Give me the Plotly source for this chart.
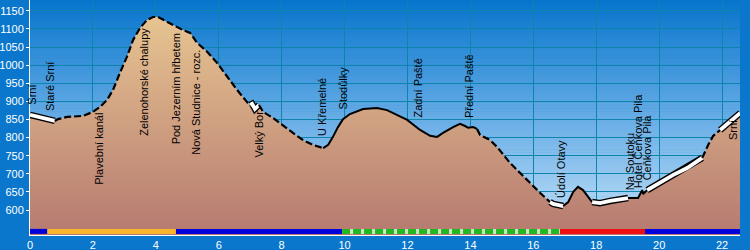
import plotly.graph_objects as go

# ---- profile data (distance km, elevation m) ----
dist_km = [0.00, 0.79, 0.89, 1.18, 1.69, 2.00, 2.23, 2.45, 2.64, 2.86, 3.08, 3.28, 3.50, 3.72,
           3.91, 4.07, 4.23, 4.55, 4.86, 5.09, 5.31, 5.63, 5.95, 6.26, 6.58, 6.90, 7.00, 7.06,
           7.15, 7.28, 7.41, 7.73, 8.04, 8.36, 8.68, 9.00, 9.32, 9.48, 9.63, 9.79, 9.95, 10.17,
           10.59, 11.03, 11.35, 11.67, 11.99, 12.40, 12.72, 12.94, 13.13, 13.45, 13.67, 13.83,
           13.93, 14.09, 14.21, 14.31, 14.63, 14.85, 15.26, 15.58, 15.90, 16.22, 16.53, 16.63,
           16.95, 17.11, 17.27, 17.42, 17.58, 17.74, 17.87, 18.12, 18.44, 19.01, 19.33, 19.46,
           19.49, 19.62, 20.45, 20.89, 21.37, 21.56, 21.72, 21.94, 22.58]
elev_m = [863, 846, 851, 857, 860, 871, 885, 904, 932, 979, 1023, 1070, 1103, 1125,
          1133, 1133, 1125, 1111, 1097, 1089, 1062, 1037, 1006, 968, 932, 898, 890, 893,
          879, 890, 871, 854, 835, 813, 793, 780, 771, 780, 802, 829, 851, 865,
          879, 882, 876, 863, 849, 821, 805, 802, 813, 829, 838, 832,
          827, 829, 824, 807, 793, 774, 730, 702, 675, 647, 622, 617,
          611, 622, 650, 664, 655, 636, 622, 619, 625, 633, 633, 655,
          644, 655, 697, 716, 744, 780, 805, 821, 868]

# line style sections along the route (km from, km to, style)
sect_from = [0.00, 0.79, 7.00, 7.28, 9.32, 14.21, 16.53, 16.95, 17.87, 19.01, 19.62, 21.37, 21.94]
sect_to = [0.79, 7.00, 7.28, 9.32, 14.21, 16.53, 16.95, 17.87, 19.01, 19.62, 21.37, 21.94, 22.58]
sect_style = ["white", "dash", "white", "dash", "solid", "dash", "white", "solid", "white",
              "solid", "white", "dash", "white"]

# waypoint labels
wp_names = ["Srní", "Staré Srní", "Plavební kanál", "Zelenohorské chalupy", "Pod Jezerním hřbetem",
            "Nová Studnice - rozc.", "Velký Bor", "U Křemelné", "Stodůlky", "Zadní Paště",
            "Přední Paště", "Údolí Otavy", "Na Soutoku", "Hotel Čeňkova Pila", "Čeňkova Pila", "Srní"]
wp_km = [0.06, 0.64, 2.19, 3.62, 4.67, 5.25, 7.28, 9.28, 9.95, 12.34, 13.96, 16.88, 19.10, 19.33, 19.62, 22.35]
wp_base = [885, 868, 664, 799, 777, 746, 738, 799, 871, 849, 849, 628, 650, 655, 677, 788]

# surface bar along the bottom
bar_from = [0.00, 0.55, 4.64, 9.92, 16.85, 19.55]
bar_to = [0.55, 4.64, 9.92, 16.85, 19.55, 22.57]
bar_kind = ["blue", "orange", "blue", "green", "red", "blue"]

X_RANGE = [0, 22.57]
Y_RANGE = [531, 1180]
BAR_Y = 541

fig = go.Figure()

# sky gradient as bands below grid
def lerp(c1, c2, t):
    return tuple(round(a + (b - a) * t) for a, b in zip(c1, c2))

sky_stops = [(0.0, (198, 227, 248)), (0.45, (112, 178, 232)), (1.0, (6, 116, 204))]
N = 80
shapes = []
for i in range(N):
    t0 = i / N
    t1 = (i + 1) / N
    tm = (t0 + t1) / 2
    for j in range(len(sky_stops) - 1):
        if sky_stops[j][0] <= tm <= sky_stops[j + 1][0]:
            a, ca = sky_stops[j]
            b, cb = sky_stops[j + 1]
            c = lerp(ca, cb, (tm - a) / (b - a))
            break
    shapes.append(dict(type="rect", xref="x domain", yref="y domain", x0=0, x1=1, y0=t0, y1=t1 + 0.002,
                       fillcolor="rgb(%d,%d,%d)" % c, line=dict(width=0), layer="below"))

# terrain fill
fig.add_trace(go.Scatter(
    x=dist_km, y=elev_m, mode="none", fill="tozeroy",
    fillgradient=dict(type="vertical", start=Y_RANGE[0], stop=1150,
                      colorscale=[[0, "rgb(182,122,112)"], [1, "rgb(232,198,146)"]]),
    hoverinfo="skip", showlegend=False))

# profile line sections
for a, b, st in zip(sect_from, sect_to, sect_style):
    xs = [x for x in dist_km if a - 1e-9 <= x <= b + 1e-9]
    ys = [y for x, y in zip(dist_km, elev_m) if a - 1e-9 <= x <= b + 1e-9]
    if st == "white":
        fig.add_trace(go.Scatter(x=xs, y=ys, mode="lines", line=dict(color="black", width=6.5),
                                 hoverinfo="skip", showlegend=False))
        fig.add_trace(go.Scatter(x=xs, y=ys, mode="lines", line=dict(color="white", width=3.8),
                                 hoverinfo="skip", showlegend=False))
    elif st == "dash":
        fig.add_trace(go.Scatter(x=xs, y=ys, mode="lines",
                                 line=dict(color="black", width=2.2, dash="7px,3px"),
                                 hoverinfo="skip", showlegend=False))
    else:
        fig.add_trace(go.Scatter(x=xs, y=ys, mode="lines", line=dict(color="black", width=2),
                                 hoverinfo="skip", showlegend=False))

# bottom surface bar
bar_colors = {"blue": "#0000dc", "orange": "#f9b52c", "green": "#22b822", "red": "#ee1010"}
for a, b, k in zip(bar_from, bar_to, bar_kind):
    if k == "green":
        fig.add_trace(go.Scatter(x=[a, b], y=[BAR_Y, BAR_Y], mode="lines",
                                 line=dict(color="#cde6c4", width=5), hoverinfo="skip", showlegend=False))
        fig.add_trace(go.Scatter(x=[a, b], y=[BAR_Y, BAR_Y], mode="lines",
                                 line=dict(color=bar_colors[k], width=5, dash="8px,3px"),
                                 hoverinfo="skip", showlegend=False))
    else:
        fig.add_trace(go.Scatter(x=[a, b], y=[BAR_Y, BAR_Y], mode="lines",
                                 line=dict(color=bar_colors[k], width=5), hoverinfo="skip", showlegend=False))

annotations = []
for name, x, y in zip(wp_names, wp_km, wp_base):
    annotations.append(dict(x=x, y=y, xref="x", yref="y", text=name, showarrow=False,
                            textangle=-90, xanchor="center", yanchor="bottom",
                            font=dict(family="Liberation Sans, Arial", size=11, color="black")))

fig.update_layout(
    width=750, height=250,
    margin=dict(l=30, r=10, t=0, b=15, autoexpand=False),
    paper_bgcolor="#0a77cc",
    plot_bgcolor="rgba(0,0,0,0)",
    shapes=shapes,
    annotations=annotations,
    font=dict(family="Liberation Sans, Arial", size=11, color="white"),
    xaxis=dict(range=X_RANGE, tickmode="linear", tick0=0, dtick=2, showgrid=True,
               gridcolor="rgb(12,132,172)", gridwidth=1, zeroline=False, automargin=False,
               showline=True, linecolor="white", linewidth=1,
               ticks="",
               tickfont=dict(size=11, color="white")),
    yaxis=dict(range=Y_RANGE, tickvals=list(range(600, 1151, 50)), showgrid=True,
               gridcolor="rgb(12,132,172)", gridwidth=1, zeroline=False, automargin=False,
               showline=True, linecolor="white", linewidth=1,
               ticks="outside", ticklen=3, tickcolor="white",
               tickfont=dict(size=11, color="white")),
)

fig.write_html("out.html")
